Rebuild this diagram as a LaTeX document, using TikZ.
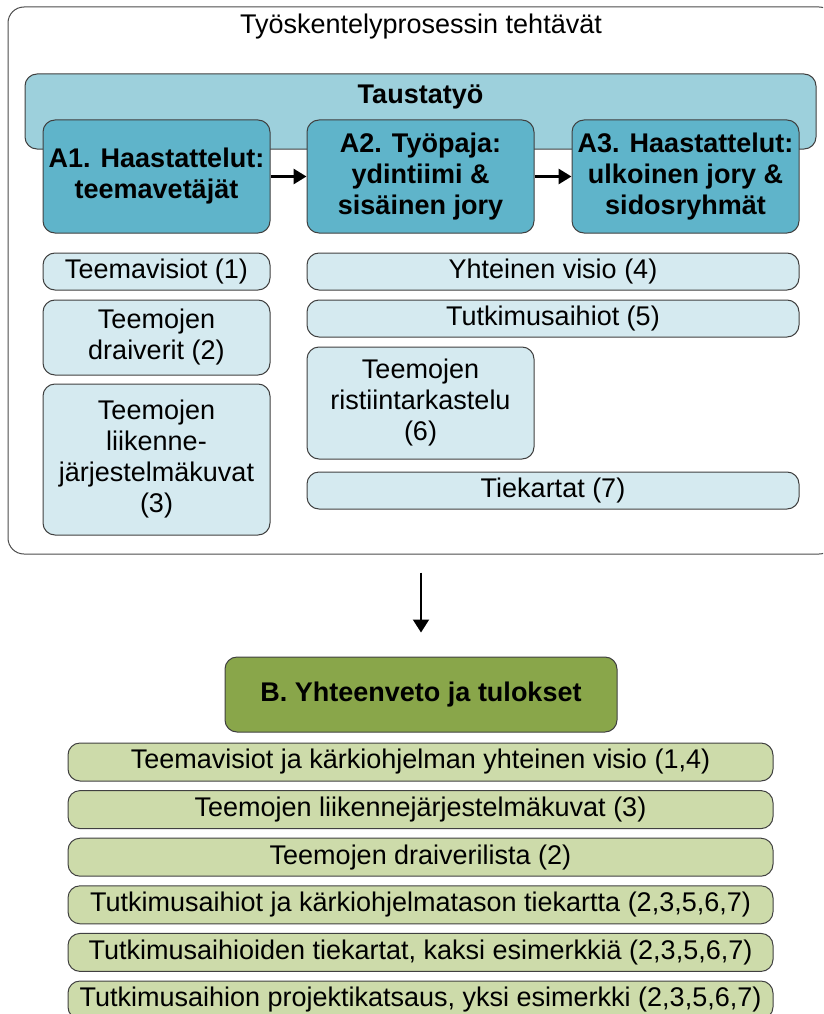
\documentclass[tikz,border=0pt]{standalone}
\usepackage{fontspec}
\setmainfont{Liberation Sans}
\usepackage{xcolor}
\usepackage{tikz}
\usetikzlibrary{arrows.meta,positioning,calc}
\definecolor{bandblue}{RGB}{157,208,220}
\definecolor{phaseblue}{RGB}{95,180,202}
\definecolor{itemblue}{RGB}{213,234,240}
\definecolor{resgreen}{RGB}{137,166,74}
\definecolor{itemgreen}{RGB}{205,219,170}

\begin{document}
\begin{tikzpicture}[
    x=1pt, y=-1pt,
    font=\fontsize{27}{31}\selectfont,
    box/.style={rectangle, draw=black!75, line width=1pt, rounded corners=12pt, align=center, inner sep=0pt},
    frame/.style={box, draw=black!70, rounded corners=16pt, minimum width=827pt, minimum height=547pt},
    band/.style={box, fill=bandblue, minimum width=791pt, minimum height=75pt},
    phase/.style={box, fill=phaseblue, font=\fontsize{27}{31}\selectfont\bfseries, minimum width=227pt, minimum height=113pt},
    item/.style={box, fill=itemblue, minimum width=227pt},
    wideitem/.style={item, minimum width=492pt, minimum height=37pt},
    result/.style={box, fill=resgreen, font=\fontsize{27}{31}\selectfont\bfseries, minimum width=392pt, minimum height=75pt},
    resitem/.style={box, fill=itemgreen, minimum width=705pt, minimum height=38pt},
    arrow/.style={-{Triangle[length=13pt,width=15pt]}, line width=3pt},
    downarrow/.style={-{Triangle[length=13pt,width=16pt]}, line width=2pt}
]
    \useasboundingbox (0,0) rectangle (823,1014);
    \clip (0,0) rectangle (823,1014);

    % tasks of the working process
    \node[frame] (tasks) at (421.5,280.5) {};
    \node (title) at (421,27) {Työskentelyprosessin tehtävät};
    \node[band] (taust) at (420.5,111.5) {};
    \node[font=\fontsize{27}{31}\selectfont\bfseries] (taustlbl) at (420.5,97) {Taustatyö};

    \node[phase] (a1) at (156.5,176.5) {A1. Haastattelut:\\teemavetäjät};
    \node[phase] (a2) at (420.5,176.5) {A2. Työpaja:\\ydintiimi \&\\sisäinen jory};
    \node[phase] (a3) at (685.5,176.5) {A3. Haastattelut:\\ulkoinen jory \&\\sidosryhmät};

    \draw[arrow] (a1) -- (a2);
    \draw[arrow] (a2) -- (a3);

    \node[item, minimum height=37pt] (vis1) at (156.5,271.5) {Teemavisiot (1)};
    \node[item, minimum height=75pt] (drv2) at (156.5,337.5) {Teemojen\\draiverit (2)};
    \node[item, minimum height=151pt] (kuv3) at (156.5,459.5) {Teemojen\\liikenne-\\järjestelmäkuvat\\(3)};

    \node[wideitem] (vis4) at (553,271.5) {Yhteinen visio (4)};
    \node[wideitem] (aih5) at (553,318.5) {Tutkimusaihiot (5)};
    \node[item, minimum height=112pt] (rist6) at (420.5,403) {Teemojen\\ristiintarkastelu\\(6)};
    \node[wideitem] (tie7) at (553,490.5) {Tiekartat (7)};

    % summary and results
    \node[result] (b) at (421,694.5) {B. Yhteenveto ja tulokset};
    \draw[downarrow, shorten <=18pt, shorten >=24pt] (b.north |- tasks.south) -- (b.north);

    \foreach \txt [count=\i] in {
        {Teemavisiot ja kärkiohjelman yhteinen visio (1,4)},
        {Teemojen liikennejärjestelmäkuvat (3)},
        {Teemojen draiverilista (2)},
        {Tutkimusaihiot ja kärkiohjelmatason tiekartta (2,3,5,6,7)},
        {Tutkimusaihioiden tiekartat, kaksi esimerkkiä (2,3,5,6,7)},
        {Tutkimusaihion projektikatsaus, yksi esimerkki (2,3,5,6,7)}}
        \node[resitem] (res\i) at (420.5,{762+47.6*(\i-1)}) {\txt};
\end{tikzpicture}
\end{document}
